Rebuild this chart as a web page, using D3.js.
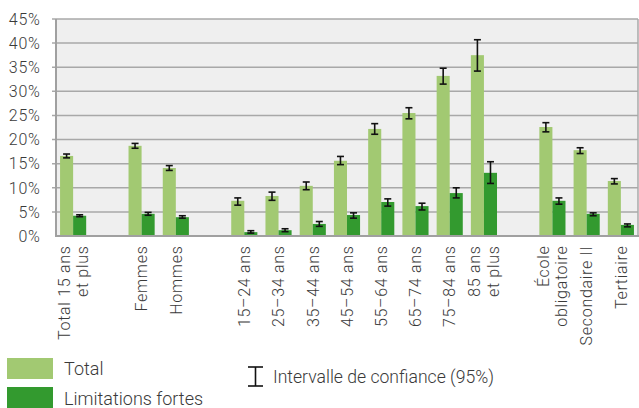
<!DOCTYPE html>
<html><head><meta charset="utf-8">
<script src="https://cdn.jsdelivr.net/npm/d3@7"></script>
<style>
body{margin:0;background:#fff;}
svg{display:block;font-family:Roboto,"Noto Sans",sans-serif;font-weight:300;}
</style></head>
<body>
<svg id="c" width="639" height="408"></svg>
<script>
// categories (gap entries are spacer slots)
const categories = ["Total 15 ans\net plus","gap1","Femmes","Hommes","gap2","15–24 ans","25–34 ans","35–44 ans","45–54 ans","55–64 ans","65–74 ans","75–84 ans","85 ans\net plus","gap3","École\nobligatoire","Secondaire II","Tertiaire"];
const totalVals  = [16.6,null,18.7,14.1,null,7.3,8.3,10.4,15.6,22.2,25.5,33.2,37.5,null,22.6,17.8,11.4];
const totalLow   = [16.2,null,18.2,13.6,null,6.4,7.4,9.6,14.8,21.1,24.3,31.5,34.2,null,21.6,17.1,10.8];
const totalHigh  = [17.0,null,19.2,14.6,null,7.9,9.1,11.2,16.5,23.3,26.6,34.8,40.7,null,23.5,18.3,11.9];
const fortesVals = [4.2,null,4.6,3.9,null,0.8,1.2,2.5,4.35,7.05,6.2,8.9,13.1,null,7.3,4.6,2.3];
const fortesLow  = [4.0,null,4.3,3.7,null,0.6,0.9,2.0,3.7,6.2,5.4,7.9,10.9,null,6.6,4.2,1.9];
const fortesHigh = [4.4,null,4.9,4.2,null,1.1,1.5,3.0,4.8,7.7,6.8,10.0,15.4,null,7.9,4.8,2.5];
const yTicks = [0,5,10,15,20,25,30,35,40,45];
const seriesNames = ["Total","Limitations fortes"];
const ciLabel = "Intervalle de confiance (95%)";

const colors = {"Total":"#a2c972","Limitations fortes":"#339a2f"};
const svg = d3.select("#c");
const L=56, R=638, T=19, B=236;

const x = d3.scaleBand().domain(categories).range([L,R]).paddingInner(0).paddingOuter(0);
const x1 = d3.scaleBand().domain(seriesNames).range([0,x.bandwidth()]).paddingInner(0).paddingOuter(0.31);
const y = d3.scaleLinear().domain([0,45]).range([B,T]);

// plot background
svg.append("rect").attr("x",L).attr("y",T).attr("width",R-L).attr("height",B-T).attr("fill","#efefef");

// grid
svg.append("g").selectAll("line").data(yTicks.filter(d=>d>0)).join("line")
  .attr("x1",L-4).attr("x2",R).attr("y1",d=>y(d)).attr("y2",d=>y(d))
  .attr("stroke","#a8a8a8").attr("stroke-width",1.5);
// right border
svg.append("line").attr("x1",R).attr("x2",R).attr("y1",T).attr("y2",B).attr("stroke","#a8a8a8").attr("stroke-width",1.5);

// y labels
svg.append("g").selectAll("text").data(yTicks).join("text")
  .attr("x",40.5).attr("y",d=>y(d)).attr("dy","0.36em").attr("text-anchor","end")
  .attr("font-size",16).attr("letter-spacing",0.7).attr("fill","#3a3a3a").text(d=>d+"%");

// bars
const rows = categories.map((c,i)=>({c,i}));
const series = [
  {name:"Total", v:totalVals, lo:totalLow, hi:totalHigh},
  {name:"Limitations fortes", v:fortesVals, lo:fortesLow, hi:fortesHigh}
];
series.forEach(s=>{
  const data = rows.filter(r=>s.v[r.i]!=null);
  svg.append("g").selectAll("rect").data(data).join("rect")
    .attr("x",r=>x(r.c)+x1(s.name)).attr("width",x1.bandwidth())
    .attr("y",r=>y(s.v[r.i])).attr("height",r=>B-y(s.v[r.i]))
    .attr("fill",colors[s.name]);
});
// error bars
series.forEach(s=>{
  const data = rows.filter(r=>s.v[r.i]!=null);
  const g = svg.append("g").attr("stroke","#111").attr("stroke-width",1.6);
  data.forEach(r=>{
    const cx = x(r.c)+x1(s.name)+x1.bandwidth()/2;
    const y0=y(s.lo[r.i]), y1=y(s.hi[r.i]);
    g.append("line").attr("x1",cx).attr("x2",cx).attr("y1",y0).attr("y2",y1);
    g.append("line").attr("x1",cx-3.5).attr("x2",cx+3.5).attr("y1",y0).attr("y2",y0);
    g.append("line").attr("x1",cx-3.5).attr("x2",cx+3.5).attr("y1",y1).attr("y2",y1);
  });
});

// axes lines
svg.append("line").attr("x1",L).attr("x2",L).attr("y1",T).attr("y2",B+1).attr("stroke","#a0a0a0").attr("stroke-width",2);
svg.append("line").attr("x1",L).attr("x2",R+1).attr("y1",B).attr("y2",B).attr("stroke","#a0a0a0").attr("stroke-width",2);

// x labels
categories.forEach(c=>{
  if(c.startsWith("gap")) return;
  const lines = c.split("\n");
  const cx = x(c)+x.bandwidth()/2;
  const g = svg.append("g").attr("transform",`translate(${cx},245.5) rotate(-90)`);
  lines.forEach((ln,k)=>{
    const off = (k-(lines.length-1)/2)*18.5;
    g.append("text").attr("x",0).attr("y",off).attr("dy","0.36em").attr("text-anchor","end")
      .attr("font-size",16).attr("letter-spacing",0.7).attr("fill","#3a3a3a").text(ln);
  });
});

// legend
const lg = svg.append("g");
seriesNames.forEach((n,k)=>{
  lg.append("rect").attr("x",7).attr("y",358+k*29).attr("width",46).attr("height",21).attr("fill",colors[n]);
  lg.append("text").attr("x",64).attr("y",375+k*29.5).attr("font-size",18).attr("fill","#3a3a3a").text(n);
});
const ig = lg.append("g").attr("stroke","#111").attr("stroke-width",1.6);
ig.append("line").attr("x1",255.5).attr("x2",255.5).attr("y1",367).attr("y2",386);
ig.append("line").attr("x1",248).attr("x2",263).attr("y1",367).attr("y2",367);
ig.append("line").attr("x1",248).attr("x2",263).attr("y1",386).attr("y2",386);
lg.append("text").attr("x",273).attr("y",383).attr("font-size",17.6).attr("fill","#3a3a3a").text(ciLabel);
</script>
</body></html>
